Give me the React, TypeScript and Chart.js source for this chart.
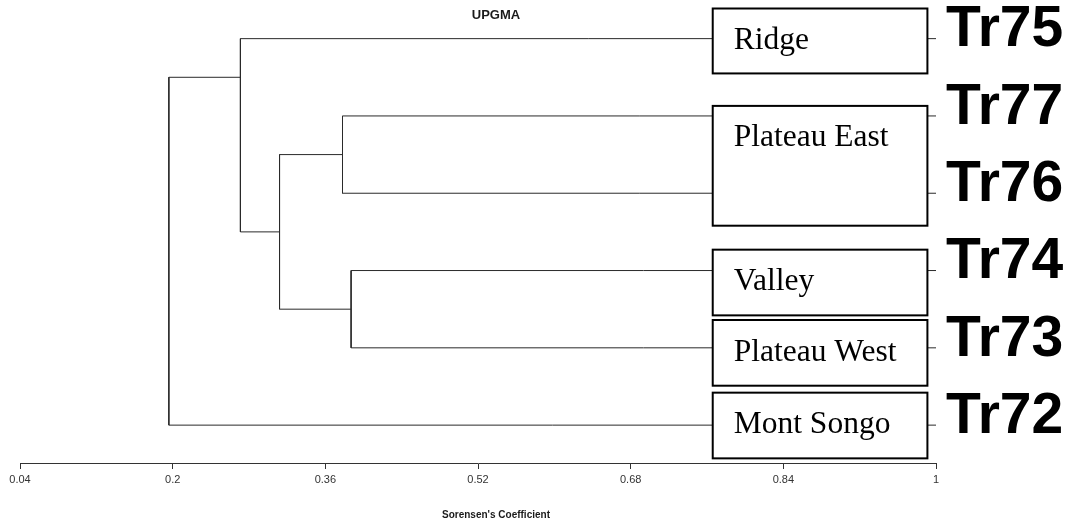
import React, { useEffect, useRef } from 'react';
import { Chart, registerables } from 'chart.js';

Chart.register(...registerables);

// Leaves (top to bottom)
const leafCodes = ['Tr75', 'Tr77', 'Tr76', 'Tr74', 'Tr73', 'Tr72'];
const leafHeight = 1;

// Merges: children are 'L#' (leaf index) or 'N#' (merge index)
const mergeChildA = ['L1', 'L3', 'N0', 'L0', 'N3'];
const mergeChildB = ['L2', 'L4', 'N1', 'N2', 'L5'];
const mergeHeights = [0.378, 0.387, 0.312, 0.271, 0.196];
const mergeRows = [1.5, 3.5, 2.5, 0.5, 2.75];

// Site groups boxed over the leaves (row ranges in leaf units)
const siteNames = ['Ridge', 'Plateau East', 'Valley', 'Plateau West', 'Mont Songo'];
const siteRowFrom = [-0.39, 0.87, 2.73, 3.64, 4.58];
const siteRowTo = [0.45, 2.42, 3.58, 4.49, 5.43];
const siteCoefFrom = [0.766, 0.766, 0.766, 0.766, 0.766];
const siteCoefTo = [0.991, 0.991, 0.991, 0.991, 0.991];

const xTickValues = [0.04, 0.2, 0.36, 0.52, 0.68, 0.84, 1];
const chartTitle = 'UPGMA';
const xAxisTitle = "Sorensen's Coefficient";

function nodeInfo(ref: string) {
  const idx = parseInt(ref.slice(1), 10);
  if (ref[0] === 'L') return { row: idx, height: leafHeight };
  return { row: mergeRows[idx], height: mergeHeights[idx] };
}

export default function App() {
  const canvasRef = useRef<HTMLCanvasElement | null>(null);

  useEffect(() => {
    if (!canvasRef.current) return;

    const datasets = mergeHeights.map((h, i) => {
      const a = nodeInfo(mergeChildA[i]);
      const b = nodeInfo(mergeChildB[i]);
      return {
        data: [
          { x: a.height, y: a.row },
          { x: h, y: a.row },
          { x: h, y: b.row },
          { x: b.height, y: b.row },
        ],
        showLine: true,
        borderColor: '#2a2a2a',
        borderWidth: 1,
        pointRadius: 0,
        tension: 0,
        fill: false,
      };
    });

    const boxesPlugin = {
      id: 'siteBoxes',
      afterDatasetsDraw(chart: any) {
        const { ctx, scales } = chart;
        const xs = scales.x;
        const ys = scales.y;
        ctx.save();
        siteNames.forEach((name, i) => {
          const left = xs.getPixelForValue(siteCoefFrom[i]);
          const right = xs.getPixelForValue(siteCoefTo[i]);
          const top = ys.getPixelForValue(siteRowFrom[i]);
          const bottom = ys.getPixelForValue(siteRowTo[i]);
          ctx.fillStyle = '#ffffff';
          ctx.fillRect(left, top, right - left, bottom - top);
          ctx.strokeStyle = '#000000';
          ctx.lineWidth = 2;
          ctx.strokeRect(left, top, right - left, bottom - top);
          ctx.fillStyle = '#000000';
          ctx.font = '31.5px "Liberation Serif", "Times New Roman", serif';
          ctx.textAlign = 'left';
          ctx.textBaseline = 'alphabetic';
          ctx.fillText(name, left + 21, top + 40.5);
        });
        ctx.restore();
      },
    };

    const titlesPlugin = {
      id: 'titles',
      afterDraw(chart: any) {
        const { ctx } = chart;
        ctx.save();
        ctx.fillStyle = '#1a1a1a';
        ctx.textAlign = 'center';
        ctx.textBaseline = 'middle';
        ctx.font = 'bold 13px "Liberation Sans", Arial, sans-serif';
        ctx.fillText(chartTitle, 496, 15);
        ctx.font = 'bold 10px "Liberation Sans", Arial, sans-serif';
        ctx.fillText(xAxisTitle, 496, 515);
        ctx.restore();
      },
    };

    const chart = new Chart(canvasRef.current, {
      type: 'scatter',
      data: { datasets: datasets as any },
      options: {
        responsive: false,
        animation: false,
        layout: { padding: { left: 20, right: 0, top: 0, bottom: 0 } },
        plugins: {
          legend: { display: false },
          tooltip: { enabled: false },
          title: { display: false },
        },
        scales: {
          x: {
            type: 'linear',
            min: 0.04,
            max: 1,
            afterBuildTicks: (s: any) => {
              s.ticks = xTickValues.map((v) => ({ value: v }));
            },
            afterFit: (s: any) => {
              s.height = 59;
              s.paddingRight = 0;
            },
            grid: {
              display: true,
              drawOnChartArea: false,
              drawTicks: true,
              tickLength: 6,
              color: '#333333',
            },
            border: { display: true, color: '#333333', width: 1 },
            ticks: {
              autoSkip: false,
              maxRotation: 0,
              padding: 4,
              color: '#333333',
              font: { family: '"Liberation Sans", Arial, sans-serif', size: 11 },
              callback: (v: any) => String(v),
            },
          },
          y: {
            type: 'linear',
            position: 'right',
            reverse: true,
            min: -0.5,
            max: 5.49,
            afterBuildTicks: (s: any) => {
              s.ticks = leafCodes.map((_, i) => ({ value: i }));
            },
            afterFit: (s: any) => {
              s.width = 132;
              s.paddingTop = 0;
              s.paddingBottom = 0;
            },
            grid: { display: false, drawTicks: false },
            border: { display: false },
            ticks: {
              autoSkip: false,
              padding: 10,
              labelOffset: -8,
              color: '#000000',
              font: { family: '"Liberation Sans", Arial, sans-serif', size: 57, weight: 'bold' },
              callback: (v: any) => leafCodes[v] ?? '',
            },
          },
        },
      } as any,
      plugins: [boxesPlugin, titlesPlugin],
    });

    return () => chart.destroy();
  }, []);

  return (
    <div style={{ position: 'absolute', left: 0, top: 0, width: 1068, height: 522, background: '#ffffff' }}>
      <canvas ref={canvasRef} width={1068} height={522} />
    </div>
  );
}
